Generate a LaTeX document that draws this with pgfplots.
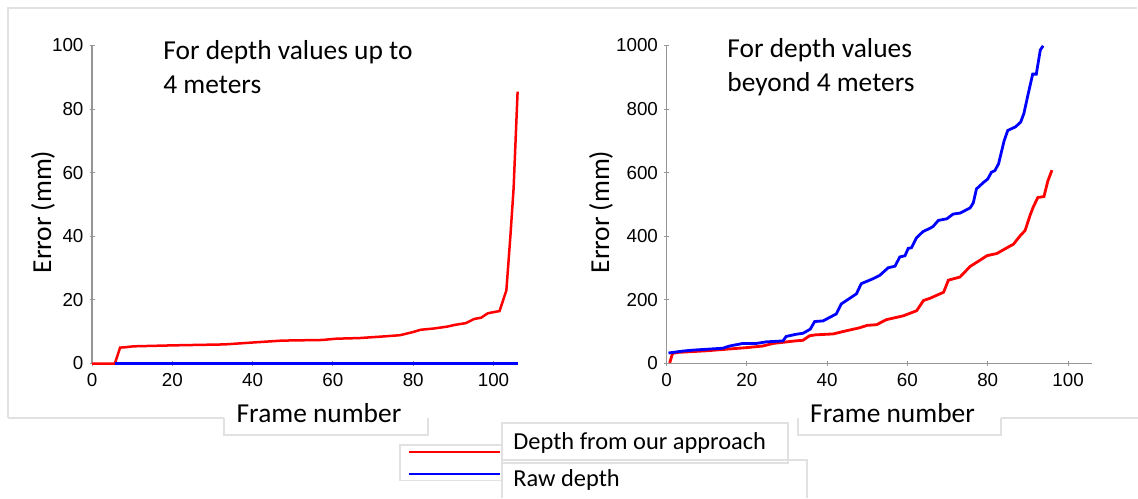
\documentclass[border=0pt]{standalone}
\usepackage{fontspec}
\setmainfont{Carlito}
\newfontfamily\tickfont{Liberation Sans}
\usepackage{pgfplots}
\pgfplotsset{compat=1.18}
\definecolor{axgray}{RGB}{150,150,150}
\definecolor{boxgray}{RGB}{225,225,225}
\definecolor{myred}{RGB}{255,0,0}
\definecolor{myblue}{RGB}{0,0,255}
\pgfplotsset{
  common/.style={
    scale only axis,
    width=212.8pt, height=159pt,
    xmin=0, xmax=106, ymin=0,
    axis x line=bottom, axis y line=left,
    axis line style={-, axgray, line width=0.6pt},
    tick style={axgray, line width=0.5pt},
    major tick length=2.5pt,
    tick align=center,
    xtick={0,20,40,60,80,100},
    /pgf/number format/assume math mode=true,
    /pgf/number format/1000 sep={},
    tick label style={font=\tickfont\fontsize{9.4}{11}\selectfont, text=black},
    yticklabel style={xshift=0.5pt},
    clip=false,
  }
}
\begin{document}
\begin{tikzpicture}
\path[use as bounding box] (0,0) rectangle (569pt,249pt);
% light frames
\draw[boxgray, line width=0.6pt] (4pt,40pt) -- (4pt,245pt) -- (568.5pt,245pt);
\draw[boxgray, line width=0.6pt] (4pt,40pt) -- (112pt,40pt);
\draw[boxgray, line width=0.6pt] (500.5pt,40pt) -- (569pt,40pt);
\draw[boxgray, line width=0.6pt] (112pt,40pt) -- (112pt,31.5pt) -- (214pt,31.5pt) -- (214pt,40pt);
\draw[boxgray, line width=0.6pt] (399pt,40pt) -- (399pt,31.5pt) -- (500.5pt,31.5pt) -- (500.5pt,40pt);

% left axis
\begin{axis}[common, at={(46pt,67.25pt)}, anchor=south west,
  ymax=100, ytick={0,20,40,60,80,100}]
\addplot[myred, line width=1.25pt] coordinates {
(0,0) (5.7,0) (7.0,5.0) (8.2,5.1) (10.3,5.4) (20,5.7) (33,6.0) (40,6.6)
(47.3,7.2) (57.4,7.4) (60.8,7.8) (66.6,8.0) (72.5,8.5) (76.7,8.9) (80,9.9)
(81.8,10.6) (85.1,11.0) (88.5,11.6) (90.2,12.1) (93.1,12.7) (95.2,14.0)
(96.9,14.4) (98.6,15.8) (101.5,16.5) (103.2,23) (104.2,40) (105,55) (106,85.5)
};
\addplot[myblue, line width=1.25pt] coordinates {
(5.7,0) (20,0) (40,0) (60,0) (80,0) (100,0) (106,0)
};
\end{axis}

% right axis
\begin{axis}[common, at={(333.25pt,67.25pt)}, anchor=south west,
  ymax=1000, ytick={0,200,400,600,800,1000}]
\addplot[myred, line width=1.4pt] coordinates {
(0.8,2) (1.5,32) (3,35) (10,40) (20,50) (24,55) (26.5,63) (32,71) (34,73)
(35.6,87) (37,90) (41.5,93) (44.8,103) (48,112) (50,120) (52.3,122)
(54.8,138) (59,150) (62.3,166) (64,198) (65.6,205) (69,224) (70.2,262)
(73.1,272) (75.6,305) (78.1,325) (79.8,339) (82.3,346) (84.8,364)
(86.4,375) (88.1,402) (89.3,418) (90.6,468) (91.4,494) (92.5,522)
(94,525) (95,575) (96,608)
};
\addplot[myblue, line width=1.4pt] coordinates {
(0.5,33) (4,39) (6.5,42) (14,48) (15.7,55) (19,63) (22.3,63) (24.8,68)
(29,71) (29.8,85) (32.3,92) (34,95) (35.8,108) (36.9,132) (39,134)
(42.3,156) (43.5,187) (47.3,219) (48.5,251) (51.5,267) (53.1,277)
(55.2,301) (56.9,306) (58.1,335) (59.4,339) (60.2,362) (61,364)
(62.3,396) (63.9,415) (65.6,425) (66.4,431) (67.7,450) (69.8,455)
(71.4,470) (73.1,473) (75.6,489) (76.4,505) (77.2,549) (79,570)
(80,580) (80.9,601) (81.8,607) (82.7,628) (84.1,701) (85,733)
(86.9,744) (88.2,759) (89,786) (90.1,849) (91.2,910) (92.1,910)
(93.1,986) (93.8,999)
};
\end{axis}

% texts
\node[anchor=west, align=left, font=\fontsize{13.7}{17}\selectfont, inner sep=0pt]
  at (81.5pt,215.5pt) {For depth values up to\\4 meters};
\node[anchor=west, align=left, font=\fontsize{13.7}{17}\selectfont, inner sep=0pt]
  at (363.5pt,215.5pt) {For depth values\\beyond 4 meters};
\node[font=\fontsize{13.7}{17}\selectfont, inner sep=0pt] at (159.5pt,42.5pt) {Frame number};
\node[font=\fontsize{13.7}{17}\selectfont, inner sep=0pt] at (446.25pt,42.5pt) {Frame number};
\node[rotate=90, font=\fontsize{13.7}{17}\selectfont, inner sep=0pt] at (21.5pt,143pt) {Error (mm)};
\node[rotate=90, font=\fontsize{13.7}{17}\selectfont, inner sep=0pt] at (300.5pt,143pt) {Error (mm)};

% legend
\draw[boxgray, line width=0.6pt] (251pt,26.5pt) -- (200pt,26.5pt) -- (200pt,8.75pt) -- (251pt,8.75pt);
\draw[boxgray, line width=0.6pt] (251pt,17.5pt) rectangle (394pt,37.5pt);
\draw[boxgray, line width=0.6pt] (251pt,0pt) -- (251pt,19pt) -- (403.5pt,19pt) -- (403.5pt,0pt);
\draw[myred, line width=1.2pt] (204.5pt,23pt) -- (250pt,23pt);
\draw[myblue, line width=1.2pt] (204.5pt,12pt) -- (250pt,12pt);
\node[anchor=west, font=\fontsize{12.2}{14}\selectfont, inner sep=0pt] at (256.5pt,27.5pt) {Depth from our approach};
\node[anchor=west, font=\fontsize{12.2}{14}\selectfont, inner sep=0pt] at (256.5pt,9pt) {Raw depth};
\end{tikzpicture}
\end{document}
